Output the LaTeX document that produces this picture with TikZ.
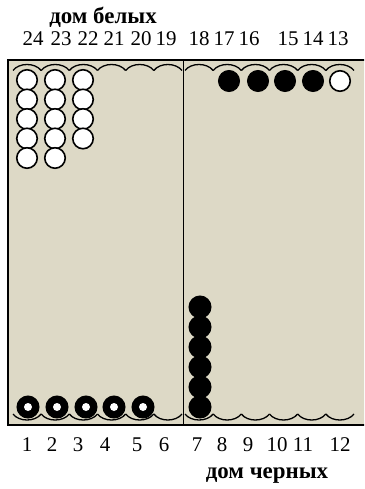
\documentclass[tikz,border=0pt]{standalone}
\usepackage{fontspec}
\setmainfont{Liberation Serif}
\definecolor{boardbg}{RGB}{221,217,198}
\begin{document}
\begin{tikzpicture}[x=1bp,y=-1bp,
  wchk/.style={circle,draw=black,fill=white,line width=1.6bp,minimum size=20.5bp,inner sep=0pt},
  bchk/.style={circle,draw=black,fill=black,line width=1bp,minimum size=21bp,inner sep=0pt},
  bdot/.style={circle,fill=white,minimum size=8bp,inner sep=0pt},
  num/.style={font=\fontsize{21}{21}\selectfont,inner sep=0pt},
  home/.style={font=\fontsize{23}{23}\selectfont\bfseries,inner sep=0pt},
  wave/.style={line width=1.3bp}]
\useasboundingbox (0,0) rectangle (364,489);
\clip (0,0) rectangle (364,489);
% board
\draw[fill=boardbg,line width=1.6bp] (8,60) rectangle (372,425);
\draw[line width=1bp] (183,60) -- (183,425);
% top waves
\foreach \s in {13,41.17,69.33,97.5,125.67,153.83,185,213.17,241.33,269.5,297.67,325.83}{
  \draw[wave] (\s,70.5) .. controls ({\s+6},62.5) and ({\s+22},62.5) .. ({\s+28.17},70.5);
}
% bottom waves
\foreach \s in {13,41.17,69.33,97.5,125.67,153.83,185,213.17,241.33,269.5,297.67,325.83}{
  \draw[wave] (\s,414) .. controls ({\s+6},422) and ({\s+22},422) .. ({\s+28.17},414);
}
% white checkers top-left
\foreach \i in {1,...,5}{ \node[wchk] (wa\i) at (27,{80+19.5*(\i-1)}) {}; }
\foreach \i in {1,...,5}{ \node[wchk] (wb\i) at (55,{80+19.5*(\i-1)}) {}; }
\foreach \i in {1,...,4}{ \node[wchk] (wc\i) at (83,{80+19.5*(\i-1)}) {}; }
% top right
\foreach \x [count=\i] in {229,258,285,313}{ \node[bchk] (tb\i) at (\x,81) {}; }
\node[wchk] (tw) at (340,81) {};
% bottom-left black with white dot
\foreach \x [count=\i] in {28,57,86,114,143}{
  \node[bchk,minimum size=22bp] (bl\i) at (\x,407) {};
  \node[bdot] (bd\i) at (\x,407) {};
}
% point 7 column
\foreach \i in {1,...,6}{ \node[bchk,minimum size=22bp] (p\i) at (200,{307+20*(\i-1)}) {}; }
% labels
\node[home] (hw) at (103,17) {дом белых};
\node[home] (hb) at (267,476) {дом черных};
\foreach \n/\x in {24/33,23/61,22/88,21/114,20/141,19/166,18/199,17/224,16/249,15/288,14/313,13/338}{
  \node[num] (t\n) at (\x,39) {\n};
}
\foreach \n/\x in {1/27,2/52,3/78,4/105,5/137,6/164,7/197,8/222,9/248,10/277,11/303,12/340}{
  \node[num] (b\n) at (\x,445) {\n};
}
\end{tikzpicture}
\end{document}
